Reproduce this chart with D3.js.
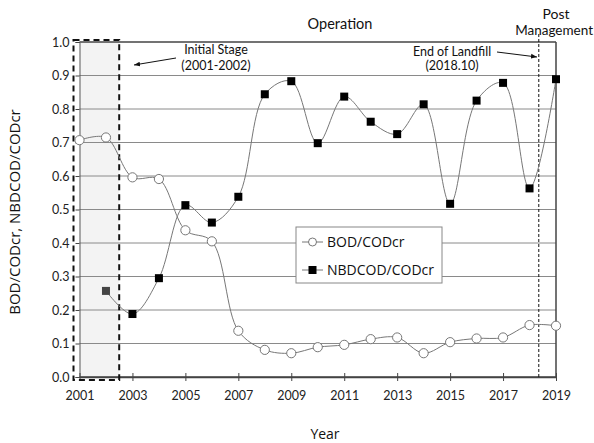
<!DOCTYPE html>
<html><head><meta charset="utf-8">
<script src="https://cdn.jsdelivr.net/npm/d3@7"></script>
<style>body{margin:0;background:#fff}svg{display:block}</style>
</head><body>
<svg id="c" width="594" height="443"></svg>
<script>
const years = [2001,2002,2003,2004,2005,2006,2007,2008,2009,2010,2011,2012,2013,2014,2015,2016,2017,2018,2019];
const bod = [0.707,0.715,0.596,0.591,0.438,0.405,0.138,0.081,0.071,0.089,0.096,0.113,0.118,0.071,0.104,0.115,0.118,0.155,0.153];
const nbdYears = [2002,2003,2004,2005,2006,2007,2008,2009,2010,2011,2012,2013,2014,2015,2016,2017,2018,2019];
const nbd = [0.257,0.188,0.295,0.513,0.461,0.538,0.844,0.883,0.698,0.837,0.762,0.725,0.814,0.517,0.825,0.878,0.563,0.889];
const xTicks = [2001,2003,2005,2007,2009,2011,2013,2015,2017,2019];
const yTicks = [0,0.1,0.2,0.3,0.4,0.5,0.6,0.7,0.8,0.9,1.0];
const seriesNames = ["BOD/CODcr","NBDCOD/CODcr"];
const endOfLandfill = 2018.35;

const svg = d3.select("#c");
const x = d3.scaleLinear().domain([2001,2019]).range([79.5,556]);
const y = d3.scaleLinear().domain([0,1]).range([377,42]);
const font = "Lato, 'Open Sans', sans-serif";

svg.append("rect").attr("x",x(2001)+1).attr("y",y(1)).attr("width",x(2002.5)-x(2001)-1).attr("height",y(0)-y(1)).attr("fill","#f3f3f3");

svg.append("g").selectAll("line").data(yTicks).join("line")
  .attr("x1",x(2001)).attr("x2",x(2019)).attr("y1",d=>y(d)).attr("y2",d=>y(d))
  .attr("stroke",d=>(d===0||d===1)?"#444":"#8a8a8a").attr("stroke-width",d=>(d===0||d===1)?1.5:1);
svg.append("line").attr("x1",x(2019)).attr("x2",x(2019)).attr("y1",y(1)).attr("y2",y(0)).attr("stroke","#444").attr("stroke-width",1.5);

const yAxis = d3.axisLeft(y).tickValues(yTicks).tickFormat(d3.format(".1f")).tickSize(4).tickPadding(6);
const gy = svg.append("g").attr("transform",`translate(${x(2001)},0)`).call(yAxis);
gy.select(".domain").attr("stroke","#555");
gy.selectAll(".tick line").attr("stroke","#444");
gy.selectAll("text").attr("font-family",font).attr("font-size",12.5).attr("fill","#222");

const xAxis = d3.axisBottom(x).tickValues(xTicks).tickFormat(d3.format("d")).tickSizeInner(4).tickSizeOuter(0).tickPadding(10);
const gx = svg.append("g").attr("transform",`translate(0,${y(0)})`).call(xAxis);
gx.select(".domain").attr("stroke","#444").attr("stroke-width",1.5);
gx.selectAll(".tick line").attr("stroke","#444").attr("y1",-4);
gx.selectAll("text").attr("font-family",font).attr("font-size",12.5).attr("fill","#222");

svg.append("rect").attr("x",73.5).attr("y",40).attr("width",x(2002.5)-73.5).attr("height",y(0)+3-40)
  .attr("fill","none").attr("stroke","#111").attr("stroke-width",2).attr("stroke-dasharray","6,4");

svg.append("line").attr("x1",x(endOfLandfill)).attr("x2",x(endOfLandfill)).attr("y1",34).attr("y2",y(0)+2)
  .attr("stroke","#111").attr("stroke-width",1).attr("stroke-dasharray","3,2");

const curve = d3.curveCatmullRom.alpha(0.5);
const lineB = d3.line().x((d,i)=>x(years[i])).y(d=>y(d)).curve(curve);
const lineN = d3.line().x((d,i)=>x(nbdYears[i])).y(d=>y(d)).curve(curve);
svg.append("path").attr("d",lineB(bod)).attr("fill","none").attr("stroke","#777").attr("stroke-width",1);
svg.append("path").attr("d",lineN(nbd)).attr("fill","none").attr("stroke","#777").attr("stroke-width",1);

svg.append("g").selectAll("circle").data(bod).join("circle")
  .attr("cx",(d,i)=>x(years[i])).attr("cy",d=>y(d)).attr("r",4.6)
  .attr("fill","#fff").attr("stroke","#777").attr("stroke-width",1);
svg.append("g").selectAll("rect").data(nbd).join("rect")
  .attr("x",(d,i)=>x(nbdYears[i])-4).attr("y",d=>y(d)-4).attr("width",8).attr("height",8)
  .attr("fill",(d,i)=>nbdYears[i]===2002?"#444":"#000");

const lg = svg.append("g");
lg.append("rect").attr("x",296).attr("y",227).attr("width",146).attr("height",56).attr("fill","#fff").attr("stroke","#888").attr("stroke-width",1);
lg.append("line").attr("x1",302).attr("x2",323).attr("y1",242).attr("y2",242).attr("stroke","#777");
lg.append("circle").attr("cx",312.5).attr("cy",242).attr("r",4).attr("fill","#fff").attr("stroke","#777");
lg.append("line").attr("x1",302).attr("x2",323).attr("y1",270).attr("y2",270).attr("stroke","#777");
lg.append("rect").attr("x",308.5).attr("y",266).attr("width",8).attr("height",8).attr("fill","#000");
lg.append("text").attr("x",327).attr("y",247).text(seriesNames[0]).attr("font-family","'Open Sans', sans-serif").attr("font-size",14).attr("fill","#111");
lg.append("text").attr("x",327).attr("y",275).text(seriesNames[1]).attr("font-family","'Open Sans', sans-serif").attr("font-size",14).attr("fill","#111");

const ann = (t,xx,yy,size,anchor="middle")=>svg.append("text").attr("x",xx).attr("y",yy).text(t)
  .attr("font-family",font).attr("font-size",size).attr("text-anchor",anchor).attr("fill","#111");
ann("Operation",340,29,14.5);
ann("Post",556,19,14);
ann("Management",593,35,13.5,"end");
ann("Initial Stage",216,54,12.5);
ann("(2001-2002)",216,70,12.5);
ann("End of Landfill",452,56,12.5);
ann("(2018.10)",452,70,12.5);

const defs = svg.append("defs");
defs.append("marker").attr("id","ah").attr("viewBox","0 0 10 10").attr("refX",10).attr("refY",5)
  .attr("markerWidth",6).attr("markerHeight",6).attr("orient","auto")
  .append("path").attr("d","M0,1 L10,5 L0,9 Z").attr("fill","#111");
svg.append("line").attr("x1",176).attr("y1",58).attr("x2",134).attr("y2",65).attr("stroke","#111").attr("stroke-width",1).attr("marker-end","url(#ah)");
svg.append("line").attr("x1",497).attr("y1",52).attr("x2",537).attr("y2",57).attr("stroke","#111").attr("stroke-width",1).attr("marker-end","url(#ah)");

svg.append("text").attr("transform","translate(20,212) rotate(-90)").attr("text-anchor","middle")
  .text("BOD/CODcr, NBDCOD/CODcr").attr("font-family","'Open Sans', sans-serif").attr("font-size",15).attr("fill","#111");
svg.append("text").attr("x",325).attr("y",439).attr("text-anchor","middle").text("Year")
  .attr("font-family","'Open Sans', sans-serif").attr("font-size",14).attr("fill","#111");
</script>
</body></html>
